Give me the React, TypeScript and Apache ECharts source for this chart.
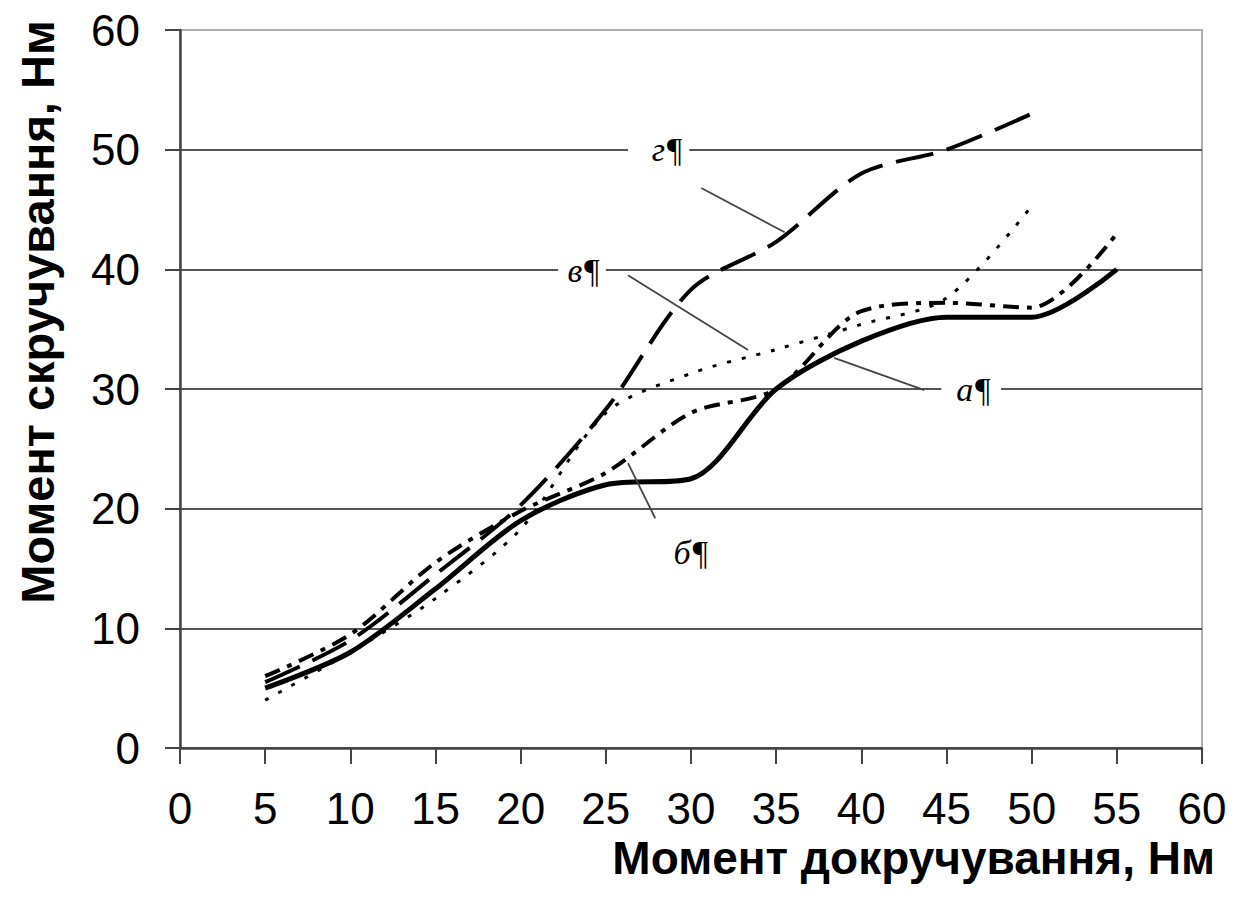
import React, { useEffect, useRef } from "react";
import * as echarts from "echarts";

// ---- Data ----
const xA = [5, 10, 15, 20, 25, 30, 35, 40, 45, 50, 55];
const yA = [5, 8, 13.3, 19, 22, 22.5, 30, 34, 36, 36, 40];

const xB = [5, 10, 15, 20, 25, 30, 35, 40, 45, 50, 55];
const yB = [6, 9.5, 15.5, 19.8, 23, 28, 30, 36.5, 37.2, 36.8, 43];

const xV = [5, 10, 15, 20, 25, 30, 35, 40, 45, 50];
const yV = [4, 8, 12.5, 18.3, 28, 31.3, 33.3, 35.4, 37.6, 45.3];

const xG = [5, 10, 15, 20, 25, 30, 35, 40, 45, 50];
const yG = [5.5, 9, 14.5, 20.3, 28.3, 38.3, 42.3, 48, 50, 53];

const xTicks = { min: 0, max: 60, interval: 5 };
const yTicks = { min: 0, max: 60, interval: 10 };

const xTitle = "Момент докручування, Нм";
const yTitle = "Момент скручування, Нм";

// annotation labels in data coordinates
const labelNames = ["г¶", "в¶", "а¶", "б¶"];
const labelPos: [number, number][] = [
  [28.6, 50],
  [23.7, 39.9],
  [46.6, 30],
  [30.0, 16.3],
];
// white gaps behind labels [xFrom, xTo, y]
const labelGaps: [number, number, number][] = [
  [26.3, 29.9, 50],
  [22.2, 25.0, 40],
  [44.7, 48.2, 30],
  [0, 0, 0],
];
// leader lines in data coordinates
const leaders: [number, number, number, number][] = [
  [30.6, 46.8, 35.5, 43.1],
  [26.3, 39.5, 33.35, 33.25],
  [38.4, 32.6, 43.7, 29.9],
  [26.3, 23.8, 27.9, 19.2],
];

const zip = (xs: number[], ys: number[]) => xs.map((x, i) => [x, ys[i]]);

export default function App() {
  const ref = useRef<HTMLDivElement>(null);
  useEffect(() => {
    document.body.style.margin = "0";
    const chart = echarts.init(ref.current!, null, { renderer: "svg" });
    const font = "Liberation Sans, Arial, sans-serif";
    const option: any = {
      animation: false,
      backgroundColor: "#fff",
      grid: {
        left: 180,
        right: 40,
        top: 30,
        bottom: 176,
        show: true,
        borderColor: "#b0b0b0",
        borderWidth: 2,
        backgroundColor: "transparent",
      },
      xAxis: {
        type: "value",
        ...xTicks,
        axisLine: { show: true, onZero: false, lineStyle: { color: "#444", width: 2.5 } },
        axisTick: { show: true, inside: false, length: 16, lineStyle: { color: "#444", width: 2 } },
        splitLine: { show: false },
        axisLabel: { fontSize: 44, color: "#000", fontFamily: font, margin: 38 },
      },
      yAxis: {
        type: "value",
        ...yTicks,
        axisLine: { show: true, onZero: false, lineStyle: { color: "#444", width: 2.5 } },
        axisTick: { show: true, inside: false, length: 15, lineStyle: { color: "#444", width: 2 } },
        splitLine: {
          show: true,
          lineStyle: {
            color: ["#555", "#555", "#555", "#555", "#555", "#555", "#b0b0b0"],
            width: 2,
          },
        },
        axisLabel: { fontSize: 44, color: "#000", fontFamily: font, margin: 40 },
      },
      series: [
        {
          name: "а",
          type: "line",
          data: zip(xA, yA),
          smooth: 0.3,
          showSymbol: false,
          lineStyle: { color: "#000", width: 5, type: "solid" },
          z: 5,
        },
        {
          name: "б",
          type: "line",
          data: zip(xB, yB),
          smooth: 0.3,
          showSymbol: false,
          lineStyle: { color: "#000", width: 4, type: [16, 8, 5, 8] },
          z: 4,
        },
        {
          name: "в",
          type: "line",
          data: zip(xV, yV),
          smooth: 0.3,
          showSymbol: false,
          lineStyle: { color: "#000", width: 3, type: [4, 11] },
          z: 3,
        },
        {
          name: "г",
          type: "line",
          data: zip(xG, yG),
          smooth: 0.3,
          showSymbol: false,
          lineStyle: { color: "#000", width: 4, type: [38, 14] },
          z: 2,
        },
      ],
    };
    chart.setOption(option);

    const px = (p: number[]) => chart.convertToPixel({ gridIndex: 0 }, p) as number[];
    const elements: any[] = [];
    labelGaps.forEach((g) => {
      if (g[1] <= g[0]) return;
      const a = px([g[0], g[2]]);
      const b = px([g[1], g[2]]);
      elements.push({
        type: "rect",
        shape: { x: a[0], y: a[1] - 3, width: b[0] - a[0], height: 6 },
        style: { fill: "#fff" },
        z: 10,
      });
    });
    leaders.forEach((l) => {
      const a = px([l[0], l[1]]);
      const b = px([l[2], l[3]]);
      elements.push({
        type: "line",
        shape: { x1: a[0], y1: a[1], x2: b[0], y2: b[1] },
        style: { stroke: "#444", lineWidth: 1.8 },
        z: 10,
      });
    });
    labelNames.forEach((t, i) => {
      const p = px(labelPos[i]);
      elements.push({
        type: "text",
        x: p[0],
        y: p[1],
        style: {
          text: t,
          font: "italic 34px 'Liberation Serif', 'Times New Roman', serif",
          fill: "#000",
          align: "center",
          verticalAlign: "middle",
        },
        z: 11,
      });
    });
    elements.push({
      type: "text",
      x: 1215,
      y: 858,
      style: {
        text: xTitle,
        font: "bold 46px 'Liberation Sans', Arial, sans-serif",
        fill: "#000",
        align: "right",
        verticalAlign: "middle",
      },
    });
    elements.push({
      type: "text",
      x: 37,
      y: 312,
      rotation: Math.PI / 2,
      style: {
        text: yTitle,
        font: "bold 47px 'Liberation Sans', Arial, sans-serif",
        fill: "#000",
        align: "center",
        verticalAlign: "middle",
      },
    });
    chart.setOption({ graphic: { elements } });
    return () => chart.dispose();
  }, []);
  return <div ref={ref} style={{ width: 1242, height: 924 }} />;
}
